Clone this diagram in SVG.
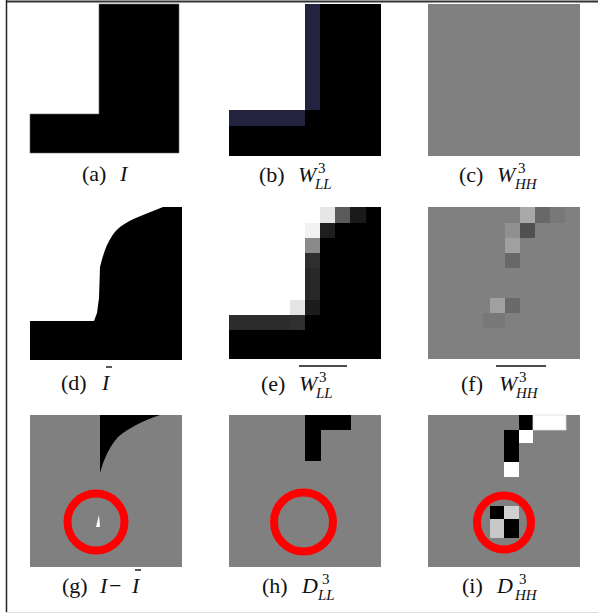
<svg xmlns="http://www.w3.org/2000/svg" width="598" height="615" viewBox="0 0 598 615">
<style>
text{font-family:"Liberation Serif","DejaVu Serif",serif;font-size:22px;fill:#111}
.m{font-style:italic}
.s{font-size:15px}
.ring{fill:none;stroke:#ff0000;stroke-width:8}
.bar{stroke:#111;stroke-width:1.4}
</style>
<rect x="0" y="0" width="598" height="615" fill="#fff"/>
<g id="frame">
<line x1="6" y1="1.5" x2="598" y2="1.5" stroke="#333" stroke-width="2"/>
<line x1="6.5" y1="0" x2="6.5" y2="612" stroke="#222" stroke-width="1.5"/>
<line x1="6" y1="612.5" x2="598" y2="612.5" stroke="#ddd" stroke-width="1"/>
</g>
<g id="a">
<rect x="30" y="4" width="150" height="150" fill="#fff"/>
<path d="M99,4 H179 V153 H30 V114 H99 Z" fill="#000" stroke="#666" stroke-width="0.6"/>
<text x="82" y="181">(a)</text><text class="m" x="120" y="181">I</text>
</g>
<g id="b">
<rect x="229" y="4" width="152" height="152" fill="#fff"/>
<rect x="305" y="4" width="76" height="152" fill="#000"/>
<rect x="229" y="110" width="152" height="46" fill="#000"/>
<rect x="305" y="4" width="15" height="106" fill="#23233f"/>
<rect x="229" y="110" width="76" height="16" fill="#23233f"/>
<text x="259" y="182">(b)</text><text class="m" x="298" y="182">W</text><text class="s" x="318" y="173">3</text><text class="s m" x="315" y="189">LL</text>
</g>
<g id="c">
<rect x="428" y="4" width="152" height="152" fill="#808080"/>
<text x="459" y="182">(c)</text><text class="m" x="497" y="182">W</text><text class="s" x="518" y="173">3</text><text class="s m" x="515" y="189">HH</text>
</g>
<g id="d">
<rect x="30" y="207" width="152" height="153" fill="#fff"/>
<path d="M30,321 L94,321 L97,313 L99,298 L100,267 C103,255 106,245 112,236 C118,226 130,220 143,215 L163,207 L182,207 L182,360 L30,360 Z" fill="#000"/>
<text x="61" y="390">(d)</text><text class="m" x="102" y="390">I</text>
<line class="bar" x1="106" y1="367" x2="112" y2="367"/>
</g>
<g id="e">
<rect x="229" y="207" width="152" height="152" fill="#fff"/>
<rect x="320" y="207" width="61" height="152" fill="#000"/>
<rect x="229" y="315" width="152" height="44" fill="#000"/>
<rect x="320" y="207" width="15" height="16" fill="#e6e6e6"/>
<rect x="335" y="207" width="15" height="16" fill="#5a5a5a"/>
<rect x="350" y="207" width="16" height="16" fill="#1a1a1a"/>
<rect x="305" y="223" width="15" height="15" fill="#f2f2f2"/>
<rect x="320" y="223" width="15" height="15" fill="#1e1e1e"/>
<rect x="305" y="238" width="15" height="15" fill="#8a8a8a"/>
<rect x="305" y="253" width="15" height="15" fill="#2e2e2e"/>
<rect x="305" y="268" width="15" height="32" fill="#282828"/>
<rect x="290" y="300" width="15" height="15" fill="#e4e4e4"/>
<rect x="305" y="300" width="15" height="15" fill="#1c1c1c"/>
<rect x="229" y="315" width="61" height="15" fill="#2c2c2c"/>
<rect x="290" y="315" width="15" height="15" fill="#303030"/>
<text x="261" y="391">(e)</text><text class="m" x="299" y="391">W</text><text class="s" x="319" y="382">3</text><text class="s m" x="316" y="398">LL</text>
<line class="bar" x1="299" y1="366" x2="347" y2="366"/>
</g>
<g id="f">
<rect x="428" y="207" width="152" height="152" fill="#808080"/>
<rect x="520" y="207" width="15" height="16" fill="#a8a8a8"/>
<rect x="535" y="207" width="15" height="16" fill="#686868"/>
<rect x="550" y="207" width="15" height="16" fill="#787878"/>
<rect x="505" y="223" width="15" height="15" fill="#909090"/>
<rect x="520" y="223" width="15" height="15" fill="#505050"/>
<rect x="505" y="238" width="15" height="15" fill="#a0a0a0"/>
<rect x="505" y="253" width="15" height="15" fill="#686868"/>
<rect x="490" y="298" width="15" height="15" fill="#a0a0a0"/>
<rect x="505" y="298" width="15" height="15" fill="#6a6a6a"/>
<rect x="483" y="313" width="22" height="15" fill="#787878"/>
<text x="461" y="391">(f)</text><text class="m" x="499" y="391">W</text><text class="s" x="519" y="382">3</text><text class="s m" x="516" y="398">HH</text>
<line class="bar" x1="496" y1="366" x2="546" y2="366"/>
</g>
<g id="g">
<rect x="30" y="415" width="152" height="152" fill="#808080"/>
<path d="M100,415 L160,415 C145,420 128,428 118,437 C110,446 104,458 100,473 Z" fill="#000"/>
<polygon points="99,515 96,527 100,527" fill="#fff"/>
<circle class="ring" cx="96" cy="522" r="28.5"/>
<text x="62" y="593">(g)</text><text class="m" x="100" y="593">I</text><text x="109" y="593">−</text><text class="m" x="132" y="593">I</text>
<line class="bar" x1="135" y1="570" x2="141" y2="570"/>
</g>
<g id="h">
<rect x="229" y="415" width="152" height="152" fill="#808080"/>
<path d="M305,415 H351 V430 H321 V461 H305 Z" fill="#000"/>
<circle class="ring" cx="303.5" cy="522" r="29.5"/>
<text x="262" y="593">(h)</text><text class="m" x="302" y="593">D</text><text class="s" x="322" y="584">3</text><text class="s m" x="318" y="600">LL</text>
</g>
<g id="i">
<rect x="428" y="415" width="152" height="152" fill="#808080"/>
<rect x="519" y="415" width="14" height="15" fill="#000"/>
<rect x="533" y="415" width="33" height="15" fill="#fff" stroke="#ddd" stroke-width="0.8"/>
<rect x="519" y="430" width="14" height="13" fill="#fff"/>
<rect x="504" y="430" width="15" height="32" fill="#000"/>
<rect x="504" y="462" width="15" height="15" fill="#fff"/>
<rect x="490" y="506" width="14" height="13" fill="#000"/>
<rect x="504" y="506" width="15" height="13" fill="#d0d0d0"/>
<rect x="490" y="519" width="14" height="19" fill="#c8c8c8"/>
<rect x="504" y="519" width="15" height="19" fill="#000"/>
<circle class="ring" cx="504" cy="522.5" r="27"/>
<text x="462" y="593">(i)</text><text class="m" x="497" y="593">D</text><text class="s" x="519" y="584">3</text><text class="s m" x="515" y="600">HH</text>
</g>
</svg>
